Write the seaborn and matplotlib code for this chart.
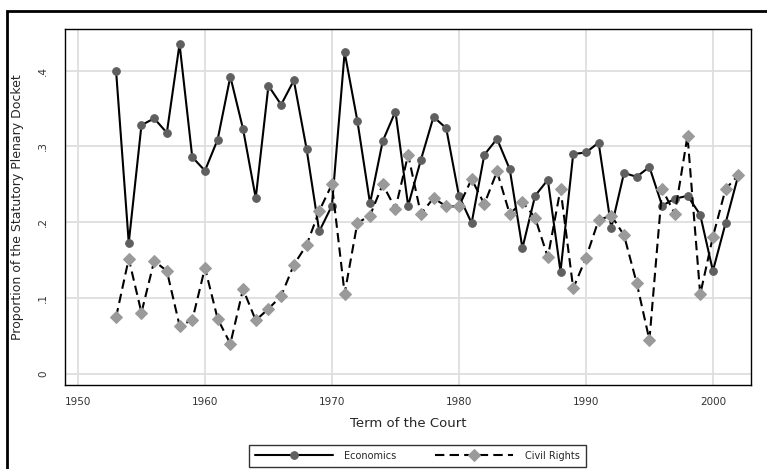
import numpy as np
import pandas as pd
import seaborn as sns
import matplotlib.pyplot as plt
from matplotlib.patches import Rectangle

# Data
years = list(range(1953, 2003))
economics = [0.400, 0.173, 0.328, 0.337, 0.318, 0.435, 0.286, 0.268, 0.309, 0.392,
             0.323, 0.232, 0.380, 0.355, 0.387, 0.297, 0.188, 0.222, 0.424, 0.334,
             0.225, 0.307, 0.346, 0.222, 0.282, 0.339, 0.324, 0.235, 0.199, 0.289,
             0.310, 0.270, 0.166, 0.235, 0.256, 0.135, 0.290, 0.292, 0.305, 0.193,
             0.265, 0.260, 0.273, 0.222, 0.231, 0.235, 0.210, 0.136, 0.199, 0.262]
civil_rights = [0.075, 0.152, 0.081, 0.149, 0.136, 0.064, 0.071, 0.140, 0.073, 0.040,
                0.112, 0.071, 0.086, 0.103, 0.144, 0.170, 0.215, 0.250, 0.106, 0.199,
                0.209, 0.250, 0.218, 0.289, 0.211, 0.232, 0.221, 0.221, 0.257, 0.224,
                0.267, 0.211, 0.227, 0.206, 0.154, 0.244, 0.113, 0.153, 0.203, 0.209,
                0.183, 0.120, 0.045, 0.244, 0.211, 0.314, 0.105, 0.181, 0.244, 0.262]
x_ticks = [1950, 1960, 1970, 1980, 1990, 2000]
y_ticks = [0, 0.1, 0.2, 0.3, 0.4]
y_tick_labels = ["0", ".1", ".2", ".3", ".4"]

df = pd.DataFrame({"year": years, "Economics": economics, "Civil Rights": civil_rights})

sns.set_style("white")
plt.rcParams['font.family'] = ['DejaVu Sans']

fig = plt.figure(figsize=(7.67, 4.69), dpi=100)
ax = fig.add_axes([65 / 767, 1 - 385 / 469, (751 - 65) / 767, (385 - 29) / 469])

sns.lineplot(data=df, x="year", y="Economics", ax=ax, color="black", lw=1.5,
             marker="o", markersize=5.5, markerfacecolor="#5f5f5f",
             markeredgecolor="#5f5f5f", label="Economics", zorder=3)
sns.lineplot(data=df, x="year", y="Civil Rights", ax=ax, color="black", lw=1.5,
             marker="D", markersize=6, markerfacecolor="#9a9a9a",
             markeredgecolor="#9a9a9a", label="Civil Rights", zorder=3)
# dashed line for civil rights
ax.lines[1].set_linestyle((0, (4.5, 2.5)))

ax.set_xlim(1948.98, 2003.0)
ax.set_ylim(-0.0143, 0.4547)
ax.set_xticks(x_ticks)
ax.set_yticks(y_ticks)
ax.set_yticklabels(y_tick_labels, rotation=90, va="center")
ax.tick_params(axis="x", length=5, width=1, labelsize=7.5, colors="black", labelcolor="#333333")
ax.tick_params(axis="y", length=8, width=1, labelsize=7.5, colors="black", labelcolor="#333333", pad=4)
ax.grid(True, color="#dedede", lw=1.3)
ax.set_axisbelow(True)
for s in ax.spines.values():
    s.set_color("black")
    s.set_linewidth(1)

ax.set_xlabel("Term of the Court", fontsize=9.5, labelpad=7)
ax.set_ylabel("Proportion of the Statutory Plenary Docket", fontsize=9, labelpad=10)

ax.get_legend().remove()
handles, labels = ax.get_legend_handles_labels()
leg = fig.legend(handles, labels, loc="center", bbox_to_anchor=(0.544, 0.028), ncol=2,
                 fontsize=7, frameon=True, fancybox=False, edgecolor="black",
                 handlelength=8, columnspacing=4, borderpad=0.6, handletextpad=1.2)
leg.get_frame().set_linewidth(1)

# outer frame of the graph region
fig.patches.append(Rectangle((7 / 767, -0.1), 1.2, 1.1 - 11 / 469, transform=fig.transFigure,
                             fill=False, edgecolor="black", lw=2, clip_on=False))

fig.savefig("out.png", dpi=100)
